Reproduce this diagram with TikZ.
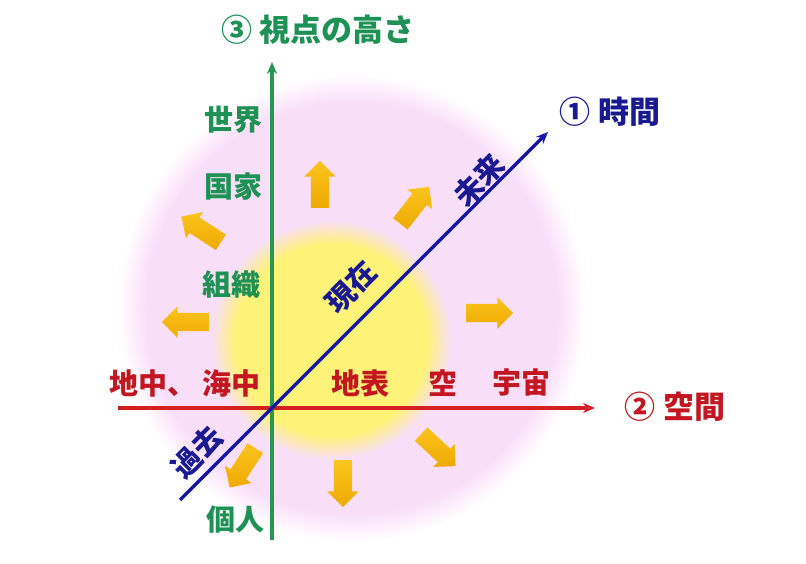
\documentclass[tikz,border=0pt]{standalone}
\usepackage{fontspec}
\usepackage{xcolor}
\usetikzlibrary{shapes.arrows,arrows.meta}
\newfontfamily\jpfont{Noto Sans CJK JP}
\definecolor{glowpink}{RGB}{249,222,248}
\definecolor{glowyellow}{RGB}{255,242,120}
\definecolor{goldlight}{RGB}{250,196,30}
\definecolor{golddark}{RGB}{238,170,0}
\definecolor{axisgreen}{RGB}{40,150,80}
\definecolor{axisred}{RGB}{212,32,32}
\definecolor{axisblue}{RGB}{20,20,165}
\definecolor{labgreen}{RGB}{30,145,85}
\definecolor{labred}{RGB}{195,22,32}
\definecolor{labblue}{RGB}{25,25,145}
\pgfdeclareradialshading{pinkglow}{\pgfpoint{0bp}{0bp}}{color(0bp)=(glowpink); color(22bp)=(glowpink); color(25bp)=(white); color(50bp)=(white)}
\pgfdeclareradialshading{yellowglow}{\pgfpoint{0bp}{0bp}}{color(0bp)=(glowyellow); color(20bp)=(glowyellow); color(25bp)=(glowpink); color(50bp)=(glowpink)}
\tikzset{lab/.style={font=\jpfont\bfseries\fontsize{29}{31}\selectfont, inner sep=0pt}}
\tikzset{headlab/.style={font=\jpfont\bfseries\fontsize{31}{33}\selectfont, inner sep=0pt}}
\tikzset{greenlab/.style={lab, text=labgreen}}
\tikzset{redlab/.style={lab, text=labred}}
\tikzset{bluelab/.style={lab, text=labblue}}
\tikzset{goldarrow/.style={single arrow, draw=none, minimum height=47pt, minimum width=31pt, inner sep=9pt, single arrow head extend=6.5pt, top color=goldlight, bottom color=golddark}}
\tikzset{axisline/.style={line width=3.5pt, -{Stealth[length=12pt,width=10pt]}}}

\begin{document}
\begin{tikzpicture}[x=1pt,y=1pt]
    \useasboundingbox (0,0) rectangle (806,564);
    \shade[shading=pinkglow] (352,256) circle (234);
    \shade[shading=yellowglow] (331,224) circle (120);

    \coordinate (O) at (272,156);
    \coordinate (gBot) at (272,24);
    \coordinate (gTop) at (272,502);
    \coordinate (rL) at (118,156);
    \coordinate (rR) at (595,156);
    \coordinate (bL) at (180,64);
    \coordinate (bR) at (548,432);

    \draw[axisline, axisred] (rL) -- (rR);
    \draw[axisline, axisgreen] (gBot) -- (gTop);
    \draw[axisline, axisblue] (bL) -- (bR);

    \foreach \nm/\x/\y/\ang in {aUp/320/375/90, aNE/412/355/52, aNW/205/332/147, aLeft/190/242/180, aRight/485/251/0, aSE/435/117/-43, aDown/343/85/-90, aSW/245/100/237}
    \node[goldarrow, rotate=\ang] (\nm) at (\x,\y) {};

    \node[headlab, text=labgreen] (tView) at (318,534) {③ 視点の高さ};
    \node[headlab, text=labblue] (tTime) at (610,452) {① 時間};
    \node[headlab, text=labred] (tSpace) at (675,157) {② 空間};
    \node[greenlab] (tWorld) at (233,444) {世界};
    \node[greenlab] (tNation) at (233,377) {国家};
    \node[greenlab] (tOrg) at (231,279) {組織};
    \node[greenlab] (tPerson) at (235,44) {個人};
    \node[redlab] (tUnder) at (185,181) {地中、 海中};
    \node[redlab] (tGround) at (360,181) {地表};
    \node[redlab] (tSky) at (443,181) {空};
    \node[redlab] (tCosmos) at (521,181) {宇宙};
    \node[bluelab, rotate=45] (tFuture) at (479,384) {未来};
    \node[bluelab, rotate=45] (tNow) at (351,277) {現在};
    \node[bluelab, rotate=45] (tPast) at (197,112) {過去};
\end{tikzpicture}
\end{document}
